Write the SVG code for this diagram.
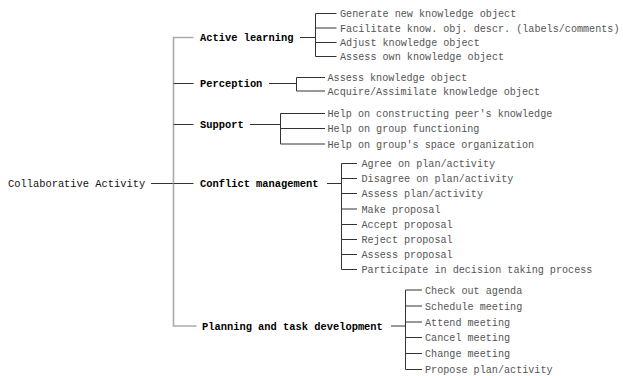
<svg xmlns="http://www.w3.org/2000/svg" width="623" height="376" viewBox="0 0 623 376">
<style>
text{font-family:"Liberation Mono","Courier New",monospace;font-size:10.4px}
.m{font-weight:bold;fill:#000}
.c{fill:#555;font-size:10.15px}
.r{fill:#111}
.l{stroke:#333;stroke-width:1;fill:none}
.t{stroke:#aaa;stroke-width:1.6;fill:none}
</style>
<rect width="623" height="376" fill="#fff"/>
<g id="connectors">
<path class="l" d="M151,183.5H173.5"/>
<path class="t" d="M193.5,37.5H173.5V326H196.5"/>
<path class="l" d="M173.5,83.5H193.5M173.5,124.5H193.5M173.5,183.5H193.5"/>
<path class="l" d="M300,37.5H315.5M315.5,13.5V56.5M315.5,13.5H336.5M315.5,28H336.5M315.5,42.5H336.5M315.5,56.5H336.5"/>
<path class="l" d="M269,83.5H296.5M296.5,77.5V91M296.5,77.5H325M296.5,91H325"/>
<path class="l" d="M250,124.5H280.5M280.5,113.5V144M280.5,113.5H325M280.5,128.5H325M280.5,144H325"/>
<path class="l" d="M327,183.5H341.5M341.5,163.5V269.5M341.5,163.5H357M341.5,178.5H357M341.5,193.5H357M341.5,209H357M341.5,224.5H357M341.5,239.5H357M341.5,254.5H357M341.5,269.5H357"/>
<path class="l" d="M391,326H405.5M405.5,290V369.5M405.5,290H422M405.5,306H422M405.5,322H422M405.5,337.5H422M405.5,353.5H422M405.5,369.5H422"/>
</g>
<g id="root"><text class="r" x="8" y="187">Collaborative Activity</text></g>
<g id="active-learning"><text class="m" x="200" y="41">Active learning</text></g>
<g id="perception"><text class="m" x="200" y="87">Perception</text></g>
<g id="support"><text class="m" x="200" y="128">Support</text></g>
<g id="conflict-management"><text class="m" x="200" y="187">Conflict management</text></g>
<g id="planning"><text class="m" x="202" y="329.5">Planning and task development</text></g>
<g id="al-children">
<text class="c" x="340" y="17">Generate new knowledge object</text>
<text class="c" x="340" y="31.5">Facilitate know. obj. descr. (labels/comments)</text>
<text class="c" x="340" y="46">Adjust knowledge object</text>
<text class="c" x="340" y="60">Assess own knowledge object</text>
</g>
<g id="p-children">
<text class="c" x="327.5" y="81">Assess knowledge object</text>
<text class="c" x="327.5" y="94.5">Acquire/Assimilate knowledge object</text>
</g>
<g id="s-children">
<text class="c" x="327.5" y="117">Help on constructing peer's knowledge</text>
<text class="c" x="327.5" y="132">Help on group functioning</text>
<text class="c" x="327.5" y="147.5">Help on group's space organization</text>
</g>
<g id="cm-children">
<text class="c" x="361.5" y="167">Agree on plan/activity</text>
<text class="c" x="361.5" y="182">Disagree on plan/activity</text>
<text class="c" x="361.5" y="197">Assess plan/activity</text>
<text class="c" x="361.5" y="212.5">Make proposal</text>
<text class="c" x="361.5" y="228">Accept proposal</text>
<text class="c" x="361.5" y="243">Reject proposal</text>
<text class="c" x="361.5" y="258">Assess proposal</text>
<text class="c" x="361.5" y="273">Participate in decision taking process</text>
</g>
<g id="pt-children">
<text class="c" x="425" y="293.5">Check out agenda</text>
<text class="c" x="425" y="309.5">Schedule meeting</text>
<text class="c" x="425" y="325.5">Attend meeting</text>
<text class="c" x="425" y="341">Cancel meeting</text>
<text class="c" x="425" y="357">Change meeting</text>
<text class="c" x="425" y="373">Propose plan/activity</text>
</g>
</svg>
